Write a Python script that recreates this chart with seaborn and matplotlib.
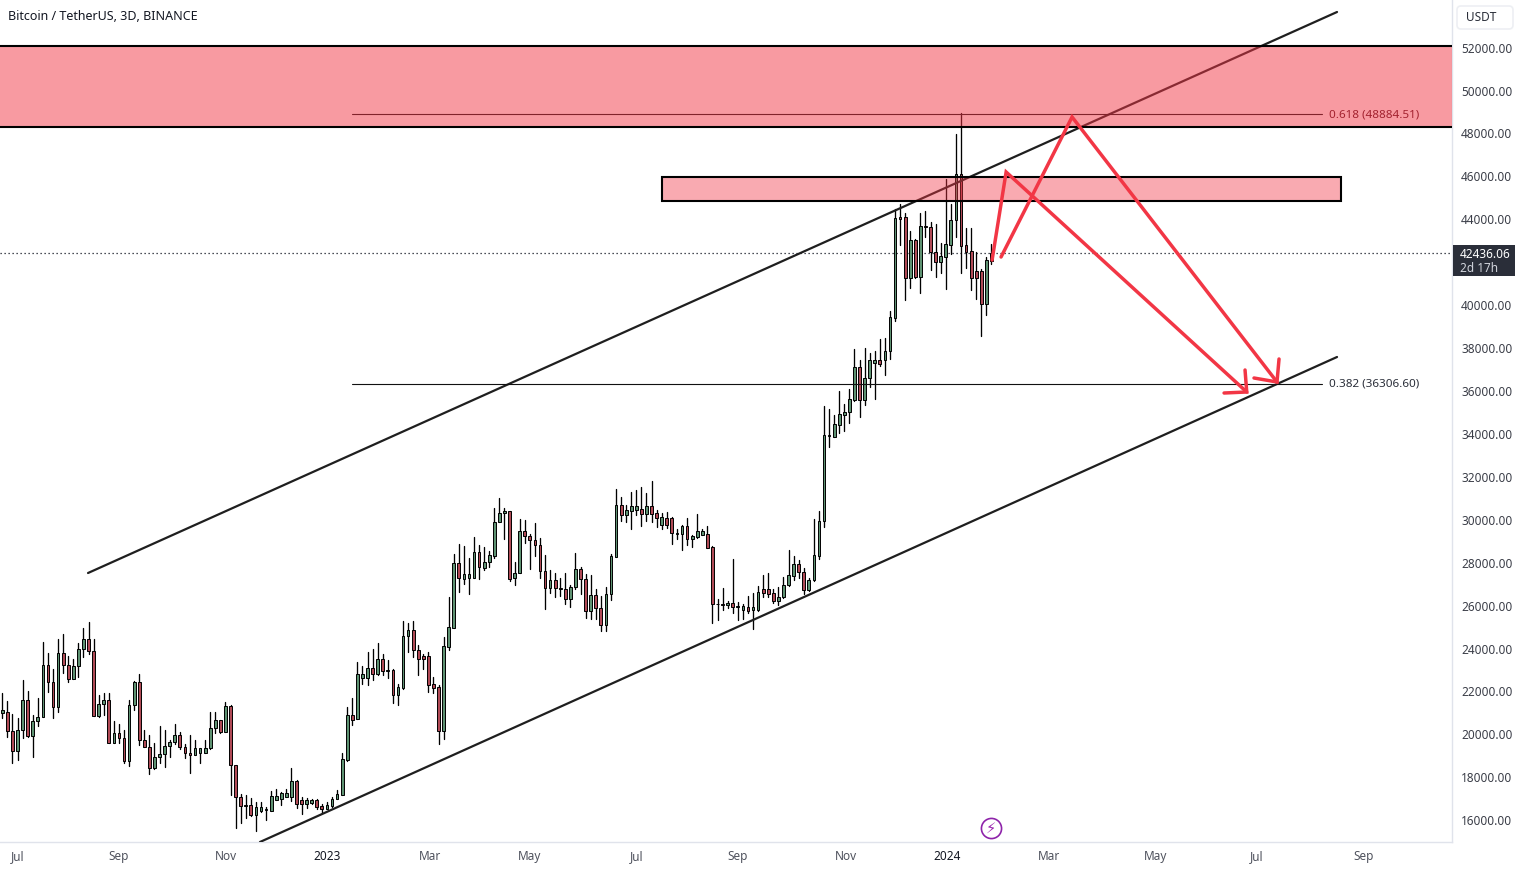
import numpy as np
import pandas as pd
import seaborn as sns
import matplotlib
matplotlib.use("Agg")
from matplotlib import pyplot as plt
from matplotlib import dates as mdates
from matplotlib.patches import Rectangle, FancyBboxPatch
from matplotlib.transforms import Affine2D

sns.set_theme(style="white")
plt.rcParams['font.family'] = ['Noto Sans', 'DejaVu Sans']

# 3D candles
opens = [21010,21020,20140,19240,20190,21600,19940,20610,20790,23220,
         22450,21260,23780,23250,22590,23180,23960,24430,23870,20840,
         21400,21590,19580,20050,19850,18740,21350,22440,19720,19430,
         18450,18930,19070,19440,19630,19950,19430,19150,19050,19150,
         19150,19350,20280,20650,20120,21310,18560,17060,16650,16690,
         16260,16440,16470,16440,16940,16970,17100,17100,17810,16920,
         16770,16780,16920,16660,16540,16680,16970,17190,18800,20890,
         20700,22640,22640,23080,22830,23500,22970,22980,21850,22160,
         24570,24850,23950,23640,23640,22330,22190,20140,24090,24970,
         27970,27250,27270,27270,28480,27770,28020,28330,29880,30300,
         30390,27270,27500,29460,29230,29040,28840,27630,26800,27180,
         26800,26760,26320,26850,27690,27220,25730,26480,25900,25110,
         26520,28280,30670,30240,30420,30470,30490,30280,30630,30300,
         29770,30080,30080,29350,29350,29710,29120,29210,29310,29320,
         28730,26090,26060,26030,26110,25950,25780,25920,25790,25810,
         26760,26760,26590,26230,26380,26940,27390,27920,27580,26730,
         27180,28330,29930,33900,33870,34430,34900,35000,35600,37100,
         35570,36590,37290,37430,37430,37850,39420,44120,44120,41250,
         43040,41330,43690,43660,42490,42030,42260,42820,43950,46100,
         42790,42510,41590,41590,40050,42070]
highs = [21910,21550,20950,20750,22530,22030,20900,21710,24290,23780,
         23030,24430,24680,23650,23500,24270,24940,25220,24430,21830,
         21910,21910,20620,20480,20200,21620,22490,22810,20200,19970,
         19580,20390,20200,19740,20470,20110,19550,19970,19740,19350,
         19740,21030,21060,20670,21490,21350,18570,17220,17160,17020,
         16860,16850,16600,17360,17450,17330,17440,18420,17870,17060,
         17030,16970,16970,16750,16850,17060,17390,19120,21270,21690,
         23370,23180,23840,23960,24260,23740,23450,23030,22330,25280,
         25170,25280,24150,23730,23840,22660,22280,24520,26420,28400,
         28870,28780,28220,29200,28820,28750,28530,30560,31010,30560,
         30390,28020,30020,29970,29320,29850,29130,28360,27660,27520,
         27290,27500,26940,28440,27810,27470,27410,26790,26450,26850,
         28390,31420,31060,30670,31290,31390,31530,31230,31800,30440,
         30330,30350,30140,29550,29760,30070,29290,30270,29550,29710,
         28780,26290,26820,26230,28170,26170,26090,26450,26600,26910,
         27430,27500,26760,26880,27330,28590,28310,28120,27740,27270,
         30020,30410,35300,35160,34870,36000,35390,36090,37960,37430,
         38000,37760,37850,38410,38470,39730,44470,44700,44310,43460,
         43070,44280,44390,43890,43780,42880,45880,44710,47980,48940,
         43580,43580,42490,41670,42240,42830]
lows = [20780,19890,18680,18800,19810,19890,18960,20390,20790,21990,
        20750,21060,22870,22450,22590,22690,23620,23730,20840,20790,
        20920,19580,19580,19610,18680,18540,21130,19500,19390,18150,
        18400,18680,18490,18960,19530,19300,18910,18210,19040,18680,
        19120,19300,20050,20080,20090,17170,15650,15850,16120,16200,
        15510,16380,16010,16440,16940,16710,17100,16910,16580,16300,
        16580,16750,16500,16350,16500,16630,16970,17190,18770,20440,
        20700,22330,22300,22530,22750,22780,22640,21480,21380,22100,
        23850,23620,22780,23060,21990,21940,19570,19800,23930,24940,
        26650,27010,26540,27270,27250,27660,27800,28200,29880,29100,
        27160,26980,27500,28930,27720,28310,27290,25860,26600,26420,
        26460,26070,25920,26790,26540,25440,25390,25390,24830,24830,
        26260,28250,29960,29880,29550,30240,29720,29960,29910,29680,
        29550,29600,28890,29120,28610,28820,28730,29170,29270,28700,
        25200,25340,25810,25900,25670,25340,25380,25670,24920,25760,
        26420,26420,26140,26030,26350,26910,27190,27300,26540,26700,
        27150,28160,29680,33400,33870,34060,34150,34520,35550,34800,
        35350,36200,35630,37180,36730,37510,39260,42800,40240,40820,
        41280,40550,43190,41640,41310,41510,40750,42400,43190,41510,
        41750,40710,40290,38580,39540,41930]
closes = [21120,20140,19240,20190,21600,19940,20610,20790,23220,22450,
          21260,23780,23250,22590,23180,23960,24430,23870,20840,21400,
          21590,19580,20050,19850,18740,21350,22440,19720,19430,18450,
          18930,19070,19440,19630,19950,19430,19150,19050,19350,19350,
          19350,20280,20650,20120,21310,18560,17060,16650,16690,16260,
          16600,16600,16500,17110,17130,17250,17250,17810,16770,16770,
          16920,16920,16610,16540,16690,16990,17200,18840,20890,20680,
          22800,22800,23080,22830,23500,22940,23000,21850,22190,24570,
          24850,23950,23530,23530,22320,22180,20140,24100,24990,27970,
          27270,27460,27460,28480,27780,28020,28340,29880,30300,30390,
          27250,27500,29460,29230,29040,28840,27630,26800,27180,26800,
          26760,26320,26850,27690,27220,25730,26480,25900,25110,26520,
          28310,30670,30240,30440,30630,30630,30280,30630,30280,30100,
          30110,29770,29370,29380,29710,29120,29240,29460,29480,28700,
          26090,26070,26030,26110,25950,25980,25980,25730,25920,26620,
          26590,26540,26230,26380,26940,27410,27920,27580,26740,27180,
          28340,29930,33930,33930,34450,34910,35000,35610,37100,35570,
          36590,37430,37430,37270,37850,39430,44050,44030,41250,43040,
          41310,43690,43660,42490,42030,42290,42830,43950,46100,42770,
          42490,41280,41280,40050,42090,42436.06]

# time axis labels (first bar of the month, as the chart snaps them)
tick_dates = ['2022-07-01', '2022-08-30', '2022-11-01', '2022-12-31', '2023-03-02', '2023-04-30', '2023-07-02',
              '2023-08-31', '2023-11-03', '2024-01-02', '2024-03-02', '2024-05-04', '2024-07-03', '2024-09-04']
tick_labels = ['Jul', 'Sep', 'Nov', '2023', 'Mar', 'May', 'Jul', 'Sep', 'Nov', '2024', 'Mar', 'May', 'Jul', 'Sep']
price_ticks = [16000, 18000, 20000, 22000, 24000, 26000, 28000, 30000, 32000, 34000,
               36000, 38000, 40000, 44000, 46000, 48000, 50000, 52000]

# drawings, x in days after the first bar
channel_top_days, channel_top_price = [50.7, 789.4], [27518, 53661]
channel_low_days, channel_low_price = [152.4, 789.4], [14983, 37584]
fib_days = [206.8, 780.6]
fib_618, fib_382 = 48884.51, 36306.60
zone_big = [48302, 52076]
zone_small_days, zone_small = [390.2, 791.8], [44853, 45972]
arrow1_days, arrow1_price = [585.4, 593.7, 736.0], [42104, 46205, 35953]
head1_days, head1_price = [735.0, 736.0, 722.6], [36978, 35953, 35906]
arrow2_days, arrow2_price = [590.7, 632.7, 753.9], [42244, 48768, 36419]
head2_days, head2_price = [755.1, 753.9, 740.3], [37491, 36419, 36605]
last_price = 42436.06

W, H = 1519, 869
RED = '#F23645'
UP, DOWN = '#5E9272', '#B04A56'
TEXT = '#131722'

dates = pd.date_range('2022-06-22', periods=len(closes), freq='3D')
start = mdates.date2num(dates[0])
df = pd.DataFrame({'num': mdates.date2num(dates), 'o': opens, 'h': highs, 'l': lows, 'c': closes})
df['lo'] = df[['o', 'c']].min(axis=1)
df['body'] = (df['o'] - df['c']).abs()
df['bar'] = range(len(df))

fig = plt.figure(figsize=(W / 100, H / 100), dpi=100)
ax = fig.add_axes([0, 27 / H, 1452 / W, 842 / H])
px = Affine2D().scale(1, -1).translate(0, H)

# wicks
wicks = df.melt(id_vars=['bar', 'num'], value_vars=['h', 'l'], value_name='price')
sns.lineplot(data=wicks, x='num', y='price', units='bar', estimator=None, sort=False,
             color='black', lw=0.95, ax=ax, zorder=2)

# bodies
for mask, col in ((df['c'] >= df['o'], UP), (df['c'] < df['o'], DOWN)):
    part = df[mask]
    sns.barplot(data=part, x='num', y='body', bottom=part['lo'].values, native_scale=True, width=0.54,
                color=col, saturation=1, edgecolor='black', linewidth=0.7, errorbar=None, ax=ax, zorder=3)

ax.axhline(last_price, color=TEXT, lw=0.9, ls=(0, (1, 2.2)), zorder=1)

# channel and fib levels
ax.plot(start + np.array(channel_top_days), channel_top_price, color='#1f1f1f', lw=1.6, zorder=4)
ax.plot(start + np.array(channel_low_days), channel_low_price, color='#1f1f1f', lw=1.6, zorder=4)
ax.plot(start + np.array(fib_days), [fib_618, fib_618], color='#111111', lw=0.8, zorder=4)
ax.plot(start + np.array(fib_days), [fib_382, fib_382], color='#111111', lw=0.8, zorder=4)

# zones
ax.axhspan(zone_big[0], zone_big[1], color=RED, alpha=0.5, lw=0, zorder=5)
for level in zone_big:
    ax.axhline(level, color='black', lw=1.5, zorder=6)
ax.add_patch(Rectangle((start + zone_small_days[0], zone_small[0]), zone_small_days[1] - zone_small_days[0],
                       zone_small[1] - zone_small[0], facecolor=(0.949, 0.212, 0.271, 0.42),
                       edgecolor='black', lw=1.5, zorder=5))

# projected path
for d, p in ((arrow1_days, arrow1_price), (head1_days, head1_price), (arrow2_days, arrow2_price), (head2_days, head2_price)):
    ax.plot(start + np.array(d), p, color=RED, lw=2.5, solid_joinstyle='miter', zorder=7)

ax.set_xlim(start - 1.36, start + 857.4)
ax.set_ylim(14983, 54220)
ax.set_xlabel('')
ax.set_ylabel('')

ax.set_xticks(mdates.date2num(pd.to_datetime(tick_dates)))
ax.set_xticklabels(tick_labels)
for lab in ax.get_xticklabels():
    year = lab.get_text().startswith('20')
    lab.set_color(TEXT if year else '#50535E')
    lab.set_fontweight('medium' if year else 'normal')
ax.tick_params(axis='x', length=0, pad=6, labelsize=8.5)

ax.yaxis.tick_right()
ax.set_yticks(price_ticks)
ax.set_yticklabels([f'{v:.2f}' for v in price_ticks])
ax.tick_params(axis='y', length=0, pad=6.5, labelsize=8.5, labelcolor='#3B3E48')

sns.despine(ax=ax, left=True, top=True, right=False, bottom=False)
for side in ('right', 'bottom'):
    ax.spines[side].set_color('#E0E3EB')
    ax.spines[side].set_linewidth(1)

# labels on the fib levels
fig.text(1329, 115, '0.618 (48884.51)', transform=px, color='#A3222F', fontsize=8.4, va='center', zorder=10)
fig.text(1329, 384, '0.382 (36306.60)', transform=px, color='#2A2E39', fontsize=8.4, va='center', zorder=10)

fig.text(8, 16, 'Bitcoin / TetherUS, 3D, BINANCE', transform=px, color=TEXT, fontsize=9, fontweight='bold', va='center')

# price scale extras
fig.add_artist(Rectangle((1453, 245), 62, 31, transform=px, facecolor='#2A2E39', edgecolor='none', zorder=8))
fig.text(1460, 254, '42436.06', transform=px, color='white', fontsize=8.5, fontweight='bold', va='center', zorder=9)
fig.text(1460, 268, '2d 17h', transform=px, color='#D1D4DC', fontsize=8.5, va='center', zorder=9)
fig.add_artist(FancyBboxPatch((1457, 6), 56, 23, boxstyle='round,pad=0,rounding_size=4', transform=px,
                              facecolor='white', edgecolor='#EDEFF3', lw=1.2, zorder=8))
fig.text(1466, 17.5, 'USDT', transform=px, color='#2A2E39', fontsize=8.5, va='center', zorder=9)

# lightning badge
ax.plot([start + 584.8], [15635], marker='o', ms=14.5, mfc='none', mec='#8E24AA', mew=1.2, zorder=8)
fig.text(991, 828, '\u26a1', transform=px, color='#9C27B0', fontsize=10.5, ha='center', va='center',
         family=['DejaVu Sans'], zorder=9)

fig.savefig('out.png', dpi=100)
